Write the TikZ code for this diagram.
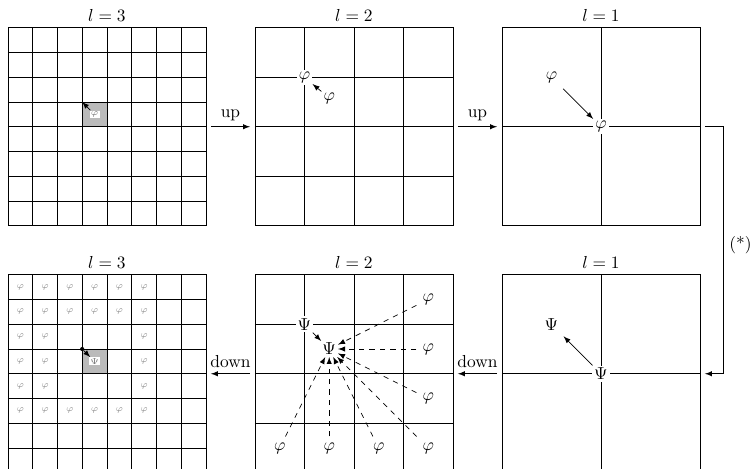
\documentclass[tikz,border=0pt]{standalone}
\usepackage{amsmath}
\usetikzlibrary{positioning}

\colorlet{cellgray}{black!27}
\tikzset{
  box/.style={draw, minimum size=4cm, inner sep=0pt, outer sep=0pt},
  lbl/.style={fill=white, inner sep=1.2pt},
  tinybox/.style={fill=white, inner sep=0.6pt, font=\tiny, text=black!55},
  tinyphi/.style={inner sep=0.5pt, font=\tiny, text=black!45},
  dot/.style={circle, fill, inner sep=0pt, minimum size=2.4pt},
}

\begin{document}
\begin{tikzpicture}[>=latex]
  \useasboundingbox (0,0) rectangle (15.15,9.47);
  % the six grids
  \node[box,label={above:$l=3$}] (u3) at (2.16,6.91) {};
  \node[box,label={above:$l=2$}] (u2) at (7.15,6.91) {};
  \node[box,label={above:$l=1$}] (u1) at (12.14,6.91) {};
  \node[box,label={above:$l=3$}] (d3) at (2.16,1.92) {};
  \node[box,label={above:$l=2$}] (d2) at (7.15,1.92) {};
  \node[box,label={above:$l=1$}] (d1) at (12.14,1.92) {};

  % upward pass
  \begin{scope}[shift={(u3.south west)}]
    \fill[cellgray] (1.5,2) rectangle (2,2.5);
    \foreach \k in {1,...,7} \draw (\k/2,0) -- (\k/2,4) (0,\k/2) -- (4,\k/2);
    \coordinate (uc) at (1.5,2.5);
    \node[tinybox] (ut) at (1.75,2.25) {$\varphi$};
    \draw[->] (ut) -- (uc);
  \end{scope}
  \begin{scope}[shift={(u2.south west)}]
    \foreach \k in {1,2,3} \draw (\k,0) -- (\k,4) (0,\k) -- (4,\k);
    \node[lbl] (ua) at (1,3) {$\varphi$};
    \node[inner sep=1pt] (ub) at (1.5,2.58) {$\varphi$};
    \draw[->] (ub) -- (ua);
  \end{scope}
  \begin{scope}[shift={(u1.south west)}]
    \draw (2,0) -- (2,4) (0,2) -- (4,2);
    \node[lbl] (va) at (2,2) {$\varphi$};
    \node (vb) at (1,3) {$\varphi$};
    \draw[->] (vb) -- (va);
  \end{scope}

  % downward pass
  \begin{scope}[shift={(d1.south west)}]
    \draw (2,0) -- (2,4) (0,2) -- (4,2);
    \node[lbl] (wa) at (2,2) {$\Psi$};
    \node (wb) at (1,3) {$\Psi$};
    \draw[->] (wa) -- (wb);
  \end{scope}
  \begin{scope}[shift={(d2.south west)}]
    \foreach \k in {1,2,3} \draw (\k,0) -- (\k,4) (0,\k) -- (4,\k);
    \node[lbl] (xa) at (1,3) {$\Psi$};
    \node[inner sep=1pt] (xb) at (1.5,2.5) {$\Psi$};
    \draw[->] (xa) -- (xb);
    \foreach \a/\b [count=\n] in {3.5/3.5,3.5/2.5,3.5/1.5,3.5/0.5,2.5/0.5,1.5/0.5,0.5/0.5} {
      \node (f\n) at (\a,\b) {$\varphi$};
      \draw[->,dashed] (f\n) -- (xb);
    }
  \end{scope}
  \begin{scope}[shift={(d3.south west)}]
    \fill[cellgray] (1.5,2) rectangle (2,2.5);
    \foreach \k in {1,...,7} \draw (\k/2,0) -- (\k/2,4) (0,\k/2) -- (4,\k/2);
    \node[dot] (dc) at (1.5,2.5) {};
    \node[tinybox] (dt) at (1.75,2.25) {$\Psi$};
    \draw[->] (dc) -- (dt);
    \foreach \c in {0,...,5} \foreach \r in {0,1,5}
      \node[tinyphi] (e\c\r) at ({0.25+0.5*\c},{3.75-0.5*\r}) {$\varphi$};
    \foreach \c in {0,1,5} \foreach \r in {2,3,4}
      \node[tinyphi] (e\c\r) at ({0.25+0.5*\c},{3.75-0.5*\r}) {$\varphi$};
  \end{scope}

  % passes between the levels
  \draw[->] ([xshift=1mm]u3.east) -- node[above] {up} ([xshift=-1mm]u2.west);
  \draw[->] ([xshift=1mm]u2.east) -- node[above] {up} ([xshift=-1mm]u1.west);
  \draw[->] ([xshift=1mm]u1.east) -- ++(0.37,0) |- node[pos=.24,right] {(*)} ([xshift=1mm]d1.east);
  \draw[->] ([xshift=-1mm]d1.west) -- node[above] {down} ([xshift=1mm]d2.east);
  \draw[->] ([xshift=-1mm]d2.west) -- node[above] {down} ([xshift=1mm]d3.east);
\end{tikzpicture}
\end{document}
